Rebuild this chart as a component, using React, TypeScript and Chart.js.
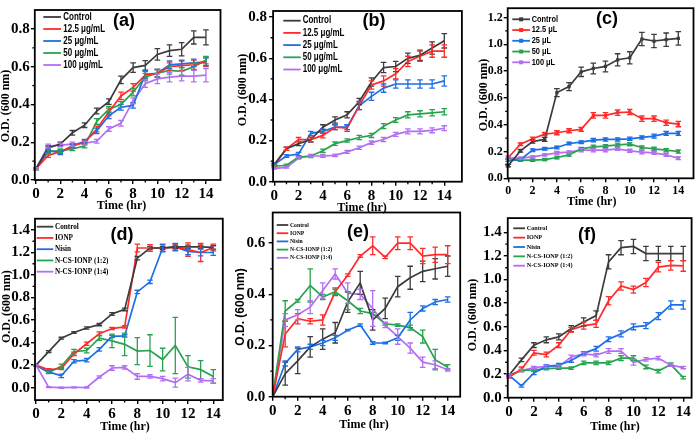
import { useEffect, useRef } from "react";
import { Chart, registerables } from "chart.js";
Chart.register(...registerables);

// ---------------- data ----------------
const hours = [0, 1, 2, 3, 4, 5, 6, 7, 8, 9, 10, 11, 12, 13, 14];
const xTicks = [0, 2, 4, 6, 8, 10, 12, 14];

const labelsAB = ["Control", "12.5 μg/mL", "25 μg/mL", "50 μg/mL", "100 μg/mL"];
const labelsC = ["Control", "12.5 μL", "25 μL", "50 μL", "100 μL"];
const labelsDEF = ["Control", "IONP", "Nisin", "N-CS-IONP (1:2)", "N-CS-IONP (1:4)"];

const xTitle = "Time (hr)";
const yTitle = "O.D. (600 nm)";

// (a)
const aYTicks = [0, 0.2, 0.4, 0.6, 0.8];
const aControl = [0.06, 0.17, 0.19, 0.25, 0.29, 0.365, 0.415, 0.53, 0.595, 0.607, 0.665, 0.685, 0.692, 0.755, 0.755];
const aC125 = [0.06, 0.13, 0.15, 0.18, 0.2, 0.27, 0.36, 0.445, 0.49, 0.555, 0.565, 0.6, 0.605, 0.61, 0.625];
const aC25 = [0.06, 0.155, 0.145, 0.18, 0.205, 0.26, 0.34, 0.385, 0.395, 0.56, 0.565, 0.61, 0.615, 0.62, 0.625];
const aC50 = [0.06, 0.15, 0.155, 0.165, 0.18, 0.31, 0.375, 0.4, 0.465, 0.545, 0.565, 0.58, 0.575, 0.6, 0.635];
const aC100 = [0.06, 0.18, 0.185, 0.19, 0.195, 0.205, 0.27, 0.3, 0.42, 0.51, 0.535, 0.545, 0.55, 0.55, 0.555];
const aControlErr = [0.005, 0.01, 0.01, 0.012, 0.012, 0.015, 0.015, 0.02, 0.025, 0.025, 0.03, 0.03, 0.035, 0.035, 0.04];
const aC125Err = [0.005, 0.01, 0.01, 0.01, 0.01, 0.015, 0.02, 0.02, 0.02, 0.02, 0.02, 0.02, 0.025, 0.025, 0.025];
const aC25Err = [0.005, 0.01, 0.01, 0.01, 0.01, 0.015, 0.015, 0.015, 0.015, 0.02, 0.02, 0.02, 0.02, 0.02, 0.02];
const aC50Err = [0.005, 0.01, 0.01, 0.01, 0.01, 0.015, 0.015, 0.015, 0.02, 0.02, 0.02, 0.02, 0.02, 0.02, 0.02];
const aC100Err = [0.005, 0.01, 0.01, 0.01, 0.01, 0.01, 0.012, 0.015, 0.015, 0.02, 0.025, 0.025, 0.025, 0.03, 0.035];

// (b)
const bYTicks = [0, 0.2, 0.4, 0.6, 0.8];
const bControl = [0.085, 0.16, 0.185, 0.205, 0.265, 0.3, 0.325, 0.39, 0.485, 0.555, 0.56, 0.6, 0.615, 0.65, 0.685];
const bC125 = [0.08, 0.16, 0.205, 0.205, 0.225, 0.265, 0.26, 0.37, 0.47, 0.49, 0.525, 0.585, 0.61, 0.635, 0.635];
const bC25 = [0.085, 0.125, 0.135, 0.235, 0.245, 0.265, 0.265, 0.37, 0.415, 0.455, 0.475, 0.475, 0.475, 0.475, 0.49];
const bC50 = [0.075, 0.08, 0.12, 0.125, 0.15, 0.185, 0.2, 0.215, 0.225, 0.27, 0.3, 0.325, 0.33, 0.335, 0.34];
const bC100 = [0.065, 0.07, 0.115, 0.125, 0.125, 0.128, 0.145, 0.165, 0.19, 0.205, 0.23, 0.245, 0.245, 0.25, 0.26];
const bControlErr = [0.005, 0.008, 0.01, 0.012, 0.012, 0.015, 0.015, 0.015, 0.02, 0.025, 0.025, 0.025, 0.025, 0.03, 0.035];
const bC125Err = [0.005, 0.008, 0.01, 0.01, 0.012, 0.012, 0.015, 0.02, 0.02, 0.025, 0.025, 0.025, 0.025, 0.03, 0.03];
const bC25Err = [0.005, 0.006, 0.008, 0.01, 0.01, 0.012, 0.012, 0.02, 0.02, 0.02, 0.02, 0.02, 0.02, 0.02, 0.025];
const bC50Err = [0.005, 0.005, 0.006, 0.008, 0.008, 0.008, 0.008, 0.01, 0.01, 0.012, 0.012, 0.015, 0.015, 0.015, 0.015];
const bC100Err = [0.004, 0.004, 0.005, 0.006, 0.006, 0.006, 0.007, 0.008, 0.008, 0.01, 0.01, 0.012, 0.012, 0.012, 0.012];

// (c)
const cYTicks = [0, 0.2, 0.4, 0.6, 0.8, 1.0, 1.2];
const cControl = [0.095, 0.205, 0.275, 0.29, 0.64, 0.685, 0.795, 0.82, 0.835, 0.885, 0.9, 1.04, 1.025, 1.035, 1.045];
const cC125 = [0.155, 0.255, 0.295, 0.33, 0.34, 0.355, 0.365, 0.47, 0.47, 0.49, 0.495, 0.445, 0.445, 0.415, 0.405];
const cC25 = [0.135, 0.14, 0.21, 0.22, 0.23, 0.26, 0.27, 0.285, 0.29, 0.29, 0.295, 0.305, 0.315, 0.335, 0.335];
const cC50 = [0.135, 0.135, 0.135, 0.14, 0.155, 0.175, 0.22, 0.235, 0.24, 0.25, 0.255, 0.23, 0.22, 0.21, 0.2];
const cC100 = [0.15, 0.15, 0.16, 0.175, 0.19, 0.195, 0.21, 0.21, 0.21, 0.22, 0.205, 0.195, 0.19, 0.175, 0.15];
const cControlErr = [0.01, 0.01, 0.012, 0.015, 0.03, 0.03, 0.035, 0.04, 0.04, 0.045, 0.045, 0.05, 0.05, 0.05, 0.05];
const cC125Err = [0.01, 0.01, 0.012, 0.012, 0.015, 0.015, 0.015, 0.02, 0.02, 0.02, 0.02, 0.02, 0.02, 0.02, 0.02];
const cC25Err = [0.008, 0.008, 0.01, 0.01, 0.01, 0.01, 0.01, 0.012, 0.012, 0.012, 0.012, 0.012, 0.015, 0.015, 0.015];
const cC50Err = [0.008, 0.008, 0.008, 0.008, 0.01, 0.01, 0.01, 0.012, 0.012, 0.012, 0.012, 0.012, 0.012, 0.012, 0.012];
const cC100Err = [0.008, 0.008, 0.008, 0.008, 0.01, 0.01, 0.012, 0.012, 0.012, 0.012, 0.012, 0.012, 0.012, 0.012, 0.01];

// (d)
const dYTicks = [0, 0.2, 0.4, 0.6, 0.8, 1.0, 1.2, 1.4];
const dControl = [0.2, 0.32, 0.44, 0.49, 0.53, 0.56, 0.655, 0.695, 1.15, 1.24, 1.24, 1.25, 1.25, 1.25, 1.245];
const dIONP = [0.2, 0.16, 0.17, 0.3, 0.39, 0.48, 0.525, 0.54, 1.24, 1.24, 1.24, 1.245, 1.225, 1.2, 1.245];
const dNisin = [0.2, 0.14, 0.105, 0.235, 0.245, 0.34, 0.455, 0.46, 0.85, 0.94, 1.24, 1.25, 1.21, 1.2, 1.2];
const dNC12 = [0.2, 0.135, 0.19, 0.32, 0.33, 0.44, 0.415, 0.385, 0.325, 0.33, 0.25, 0.375, 0.185, 0.16, 0.1];
const dNC14 = [0.2, 0.005, 0.0, 0.003, 0.002, 0.095, 0.175, 0.18, 0.1, 0.1, 0.08, 0.045, 0.12, 0.065, 0.06];
const dControlErr = [0.005, 0.008, 0.008, 0.008, 0.01, 0.01, 0.012, 0.012, 0.015, 0.015, 0.015, 0.015, 0.015, 0.015, 0.015];
const dIONPErr = [0.005, 0.01, 0.01, 0.015, 0.015, 0.015, 0.01, 0.01, 0.035, 0.03, 0.03, 0.03, 0.06, 0.08, 0.03];
const dNisinErr = [0.005, 0.01, 0.015, 0.015, 0.015, 0.015, 0.01, 0.01, 0.015, 0.015, 0.035, 0.03, 0.03, 0.03, 0.025];
const dNC12Err = [0.005, 0.01, 0.02, 0.02, 0.02, 0.02, 0.06, 0.1, 0.12, 0.14, 0.1, 0.25, 0.1, 0.08, 0.06];
const dNC14Err = [0.005, 0.005, 0.005, 0.005, 0.005, 0.01, 0.02, 0.015, 0.025, 0.015, 0.02, 0.04, 0.06, 0.015, 0.02];

// (e)
const eYTicks = [0, 0.2, 0.4, 0.6];
const eControl = [0, 0.09, 0.14, 0.195, 0.225, 0.25, 0.37, 0.445, 0.3, 0.345, 0.43, 0.465, 0.49, 0.5, 0.51];
const eIONP = [0, 0.245, 0.305, 0.295, 0.3, 0.41, 0.475, 0.55, 0.59, 0.545, 0.6, 0.6, 0.55, 0.555, 0.555];
const eNisin = [0, 0.13, 0.185, 0.195, 0.21, 0.23, 0.26, 0.28, 0.21, 0.21, 0.23, 0.3, 0.345, 0.37, 0.38];
const eNC12 = [0, 0.335, 0.375, 0.435, 0.39, 0.41, 0.375, 0.335, 0.325, 0.285, 0.28, 0.27, 0.235, 0.145, 0.115];
const eNC14 = [0, 0.3, 0.32, 0.35, 0.415, 0.48, 0.405, 0.4, 0.345, 0.28, 0.235, 0.19, 0.135, 0.125, 0.105];
const eControlErr = [0, 0.045, 0.05, 0.04, 0.04, 0.04, 0.04, 0.045, 0.04, 0.04, 0.04, 0.045, 0.04, 0.04, 0.04];
const eIONPErr = [0, 0.05, 0.02, 0.01, 0.02, 0.015, 0.005, 0.005, 0.035, 0.005, 0.025, 0.025, 0.03, 0.03, 0.035];
const eNisinErr = [0, 0.01, 0.01, 0.01, 0.01, 0.01, 0.003, 0.005, 0.005, 0.003, 0.01, 0.03, 0.01, 0.01, 0.01];
const eNC12Err = [0, 0.04, 0.005, 0.065, 0.01, 0.01, 0.035, 0.01, 0.005, 0.005, 0.005, 0.01, 0.025, 0.04, 0.01];
const eNC14Err = [0, 0.025, 0.02, 0.025, 0.03, 0.02, 0.04, 0.02, 0.07, 0.01, 0.03, 0.02, 0.02, 0.015, 0.005];

// (f)
const fYTicks = [0, 0.2, 0.4, 0.6, 0.8, 1.0, 1.2, 1.4];
const fControl = [0.19, 0.32, 0.445, 0.49, 0.515, 0.585, 0.64, 0.695, 1.15, 1.27, 1.28, 1.22, 1.22, 1.22, 1.22];
const fIONP = [0.175, 0.24, 0.38, 0.365, 0.445, 0.575, 0.61, 0.625, 0.82, 0.945, 0.915, 0.975, 1.105, 1.12, 1.115];
const fNisin = [0.19, 0.1, 0.21, 0.265, 0.275, 0.315, 0.375, 0.415, 0.495, 0.54, 0.6, 0.61, 0.69, 0.785, 0.785];
const fNC12 = [0.19, 0.23, 0.235, 0.245, 0.25, 0.25, 0.295, 0.295, 0.295, 0.335, 0.335, 0.26, 0.225, 0.28, 0.17];
const fNC14 = [0.19, 0.23, 0.255, 0.265, 0.265, 0.345, 0.37, 0.36, 0.395, 0.395, 0.3, 0.325, 0.335, 0.275, 0.255];
const fControlErr = [0.01, 0.015, 0.02, 0.025, 0.025, 0.025, 0.035, 0.04, 0.06, 0.06, 0.06, 0.06, 0.06, 0.06, 0.06];
const fIONPErr = [0.01, 0.02, 0.02, 0.02, 0.02, 0.02, 0.03, 0.03, 0.035, 0.035, 0.03, 0.035, 0.04, 0.04, 0.045];
const fNisinErr = [0.01, 0.01, 0.015, 0.015, 0.015, 0.015, 0.015, 0.02, 0.02, 0.025, 0.025, 0.025, 0.03, 0.035, 0.035];
const fNC12Err = [0.01, 0.01, 0.01, 0.01, 0.01, 0.01, 0.015, 0.015, 0.015, 0.02, 0.02, 0.015, 0.015, 0.015, 0.01];
const fNC14Err = [0.01, 0.01, 0.01, 0.01, 0.01, 0.015, 0.015, 0.015, 0.02, 0.02, 0.025, 0.015, 0.015, 0.01, 0.01];

// ---------------- style ----------------
const COLORS = ["#3c3c3c", "#ff2b2b", "#1d6fe5", "#27a34f", "#b36ff2"];
const SERIF = "'Liberation Serif', 'Times New Roman', serif";
const SANS = "'Liberation Sans', Arial, sans-serif";

type Panel = {
  tag: string;
  labels: string[];
  series: number[][];
  errors: number[][];
  yTicks: number[];
  xMin: number; xMax: number; yMin: number; yMax: number;
  box: { x: number; y: number; w: number; h: number };
  area: { L: number; T: number; R: number; B: number };
  markers: boolean;
  tickSize: number;
  yPad: number;
  legend: { x1: number; x2: number; tx: number; y0: number; dy: number; family: string; size: number; sx: number };
  tagPos: [number, number];
  yTitlePos: [number, number];
  xTitlePos: [number, number];
  yTitleFamily: string;
};

const panels: Panel[] = [
  {
    tag: "(a)", labels: labelsAB,
    series: [aControl, aC125, aC25, aC50, aC100],
    errors: [aControlErr, aC125Err, aC25Err, aC50Err, aC100Err],
    yTicks: aYTicks, xMin: -0.1, xMax: 15.2, yMin: 0, yMax: 0.9,
    box: { x: 0, y: 0, w: 232, h: 217 }, area: { L: 34.8, T: 5.6, R: 220.5, B: 180 },
    markers: false, tickSize: 15, yPad: 1,
    legend: { x1: 43.3, x2: 61, tx: 63.3, y0: 17, dy: 12, family: SANS, size: 10, sx: 0.8 },
    tagPos: [124, 21], yTitlePos: [6, 106], xTitlePos: [121.5, 206], yTitleFamily: SERIF,
  },
  {
    tag: "(b)", labels: labelsAB,
    series: [bControl, bC125, bC25, bC50, bC100],
    errors: [bControlErr, bC125Err, bC25Err, bC50Err, bC100Err],
    yTicks: bYTicks, xMin: -0.1, xMax: 15.45, yMin: 0, yMax: 0.83,
    box: { x: 230, y: 0, w: 234, h: 217 }, area: { L: 273.1, T: 0.76, R: 461.9, B: 181.7 },
    markers: false, tickSize: 15, yPad: 2,
    legend: { x1: 283.3, x2: 300.7, tx: 302.7, y0: 20.7, dy: 12.2, family: SANS, size: 10, sx: 0.8 },
    tagPos: [374, 21], yTitlePos: [243.3, 90], xTitlePos: [362, 207.5], yTitleFamily: SERIF,
  },
  {
    tag: "(c)", labels: labelsC,
    series: [cControl, cC125, cC25, cC50, cC100],
    errors: [cControlErr, cC125Err, cC25Err, cC50Err, cC100Err],
    yTicks: cYTicks, xMin: -0.05, xMax: 15.25, yMin: 0, yMax: 1.27,
    box: { x: 463, y: 0, w: 237, h: 217 }, area: { L: 507.7, T: 6.5, R: 693.5, B: 178.3 },
    markers: true, tickSize: 12, yPad: 1,
    legend: { x1: 512.3, x2: 530, tx: 531.7, y0: 19.3, dy: 10.75, family: SANS, size: 8.5, sx: 0.87 },
    tagPos: [607, 19], yTitlePos: [484, 95], xTitlePos: [591.7, 201.7], yTitleFamily: SERIF,
  },
  {
    tag: "(d)", labels: labelsDEF,
    series: [dControl, dIONP, dNisin, dNC12, dNC14],
    errors: [dControlErr, dIONPErr, dNisinErr, dNC12Err, dNC14Err],
    yTicks: dYTicks, xMin: -0.08, xMax: 14.75, yMin: -0.11, yMax: 1.5,
    box: { x: 0, y: 200, w: 232, h: 235 }, area: { L: 35, T: 218.7, R: 222.8, B: 400.1 },
    markers: false, tickSize: 15, yPad: 1,
    legend: { x1: 36.7, x2: 53.3, tx: 55, y0: 226.7, dy: 11.25, family: SERIF, size: 8, sx: 0.9 },
    tagPos: [122, 235], yTitlePos: [6.7, 306.7], xTitlePos: [125, 426.7], yTitleFamily: SERIF,
  },
  {
    tag: "(e)", labels: labelsDEF,
    series: [eControl, eIONP, eNisin, eNC12, eNC14],
    errors: [eControlErr, eIONPErr, eNisinErr, eNC12Err, eNC14Err],
    yTicks: eYTicks, xMin: 0, xMax: 15, yMin: 0, yMax: 0.72,
    box: { x: 230, y: 200, w: 234, h: 235 }, area: { L: 272.7, T: 210.7, R: 460.2, B: 396.7 },
    markers: false, tickSize: 15, yPad: 3.5,
    legend: { x1: 276.7, x2: 288.3, tx: 290, y0: 225, dy: 8.2, family: SERIF, size: 6, sx: 0.95 },
    tagPos: [358, 231.7], yTitlePos: [240.5, 307], xTitlePos: [364, 425], yTitleFamily: SANS,
  },
  {
    tag: "(f)", labels: labelsDEF,
    series: [fControl, fIONP, fNisin, fNC12, fNC14],
    errors: [fControlErr, fIONPErr, fNisinErr, fNC12Err, fNC14Err],
    yTicks: fYTicks, xMin: -0.1, xMax: 14.67, yMin: 0, yMax: 1.52,
    box: { x: 463, y: 200, w: 237, h: 235 }, area: { L: 507.75, T: 218.1, R: 691.6, B: 397.7 },
    markers: false, tickSize: 15, yPad: 2,
    legend: { x1: 513.3, x2: 525, tx: 526.7, y0: 228.3, dy: 9.35, family: SERIF, size: 6.5, sx: 0.95 },
    tagPos: [587, 235], yTitlePos: [473, 315], xTitlePos: [615, 426.7], yTitleFamily: SERIF,
  },
];

function drawText(ctx: CanvasRenderingContext2D, s: string, x: number, y: number, font: string, align: CanvasTextAlign, sx = 1, rot = 0) {
  ctx.save();
  ctx.translate(x, y);
  if (rot) ctx.rotate(rot);
  ctx.scale(sx, 1);
  ctx.font = font;
  ctx.textAlign = align;
  ctx.textBaseline = "middle";
  ctx.fillStyle = "#000";
  ctx.fillText(s, 0, 0);
  ctx.restore();
}

function makeDecor(p: Panel) {
  return {
    id: "decor",
    afterDatasetsDraw(chart: any) {
      const ctx: CanvasRenderingContext2D = chart.ctx;
      const ys = chart.scales.y;
      chart.data.datasets.forEach((ds: any, i: number) => {
        const meta = chart.getDatasetMeta(i);
        ctx.save();
        ctx.strokeStyle = ds.borderColor;
        ctx.lineWidth = 1.3;
        meta.data.forEach((pt: any, j: number) => {
          const e = ds.err[j];
          const v = ds.data[j].y;
          if (!e) return;
          const y1 = ys.getPixelForValue(v + e);
          const y2 = ys.getPixelForValue(v - e);
          ctx.beginPath();
          ctx.moveTo(pt.x, y1); ctx.lineTo(pt.x, y2);
          ctx.moveTo(pt.x - 2.8, y1); ctx.lineTo(pt.x + 2.8, y1);
          ctx.moveTo(pt.x - 2.8, y2); ctx.lineTo(pt.x + 2.8, y2);
          ctx.stroke();
        });
        ctx.restore();
      });
    },
    afterDraw(chart: any) {
      const ctx: CanvasRenderingContext2D = chart.ctx;
      const a = chart.chartArea;
      const xs = chart.scales.x;
      const ys = chart.scales.y;
      const ox = p.box.x, oy = p.box.y;
      // frame
      ctx.save();
      ctx.strokeStyle = "#000";
      ctx.lineWidth = 1.8;
      ctx.strokeRect(a.left, a.top, a.right - a.left, a.bottom - a.top);
      // minor ticks
      ctx.lineWidth = 1.3;
      ctx.beginPath();
      for (let k = 0; k < xTicks.length - 1; k++) {
        const x = xs.getPixelForValue((xTicks[k] + xTicks[k + 1]) / 2);
        ctx.moveTo(x, a.bottom); ctx.lineTo(x, a.bottom + 2.5);
      }
      for (let k = 0; k < p.yTicks.length - 1; k++) {
        const y = ys.getPixelForValue((p.yTicks[k] + p.yTicks[k + 1]) / 2);
        ctx.moveTo(a.left, y); ctx.lineTo(a.left - 2.5, y);
      }
      ctx.stroke();
      ctx.restore();
      // legend
      const lg = p.legend;
      p.labels.forEach((lab, i) => {
        const y = lg.y0 + i * lg.dy - oy;
        ctx.save();
        ctx.strokeStyle = COLORS[i];
        ctx.lineWidth = 1.8;
        ctx.beginPath();
        ctx.moveTo(lg.x1 - ox, y); ctx.lineTo(lg.x2 - ox, y);
        ctx.stroke();
        if (p.markers) {
          ctx.fillStyle = COLORS[i];
          const mx = (lg.x1 + lg.x2) / 2 - ox;
          ctx.fillRect(mx - 2, y - 2, 4, 4);
        }
        ctx.restore();
        drawText(ctx, lab, lg.tx - ox, y, `bold ${lg.size}px ${lg.family}`, "left", lg.sx);
      });
      // tag
      drawText(ctx, p.tag, p.tagPos[0] - ox, p.tagPos[1] - oy, `bold 18px ${SANS}`, "center");
      // axis titles
      drawText(ctx, xTitle, p.xTitlePos[0] - ox, p.xTitlePos[1] - oy, `bold 12px ${SERIF}`, "center");
      drawText(ctx, yTitle, p.yTitlePos[0] - ox, p.yTitlePos[1] - oy, `bold 12px ${p.yTitleFamily}`, "center", 1, -Math.PI / 2);
    },
  };
}

function PanelChart({ p }: { p: Panel }) {
  const ref = useRef<HTMLCanvasElement | null>(null);
  useEffect(() => {
    if (!ref.current) return;
    const datasets = p.series.map((vals, i) => ({
      label: p.labels[i],
      data: hours.map((h, j) => ({ x: h, y: vals[j] })),
      err: p.errors[i],
      borderColor: COLORS[i],
      backgroundColor: COLORS[i],
      pointBackgroundColor: COLORS[i],
      borderWidth: 1.7,
      pointRadius: p.markers ? 2.3 : 0,
      pointStyle: "rect",
      pointBorderWidth: 0,
      tension: 0,
      fill: false,
    }));
    const tickFont = { family: SERIF, weight: "bold" as const, size: p.tickSize };
    const chart = new Chart(ref.current, {
      type: "line",
      data: { datasets } as any,
      options: {
        responsive: false,
        animation: false,
        events: [],
        layout: {
          padding: {
            left: 0,
            top: p.area.T - p.box.y,
            right: p.box.x + p.box.w - p.area.R,
            bottom: 0,
          },
        },
        plugins: { legend: { display: false }, tooltip: { enabled: false } },
        scales: {
          x: {
            type: "linear",
            min: p.xMin,
            max: p.xMax,
            afterFit: (s: any) => { s.height = p.box.y + p.box.h - p.area.B; },
            afterBuildTicks: (s: any) => { s.ticks = xTicks.map((v) => ({ value: v })); },
            ticks: { font: tickFont, color: "#000", padding: 1, maxRotation: 0, autoSkip: false, callback: (v: any) => String(v) },
            grid: { drawOnChartArea: false, drawTicks: true, tickLength: 4, color: "#000", lineWidth: 1.4 },
            border: { display: false },
          },
          y: {
            type: "linear",
            min: p.yMin,
            max: p.yMax,
            afterFit: (s: any) => { s.width = p.area.L - p.box.x; },
            afterBuildTicks: (s: any) => { s.ticks = p.yTicks.map((v) => ({ value: v })); },
            ticks: { font: tickFont, color: "#000", padding: p.yPad, autoSkip: false, callback: (v: any) => Number(v).toFixed(1) },
            grid: { drawOnChartArea: false, drawTicks: true, tickLength: 4, color: "#000", lineWidth: 1.4 },
            border: { display: false },
          },
        },
      } as any,
      plugins: [makeDecor(p)],
    });
    return () => chart.destroy();
  }, [p]);
  return (
    <canvas
      ref={ref}
      width={p.box.w}
      height={p.box.h}
      style={{ position: "absolute", left: p.box.x, top: p.box.y, width: p.box.w, height: p.box.h }}
    />
  );
}

export default function App() {
  return (
    <div style={{ position: "fixed", left: 0, top: 0, width: 700, height: 435, background: "#fff", overflow: "hidden" }}>
      {panels.map((p) => (
        <PanelChart key={p.tag} p={p} />
      ))}
    </div>
  );
}
